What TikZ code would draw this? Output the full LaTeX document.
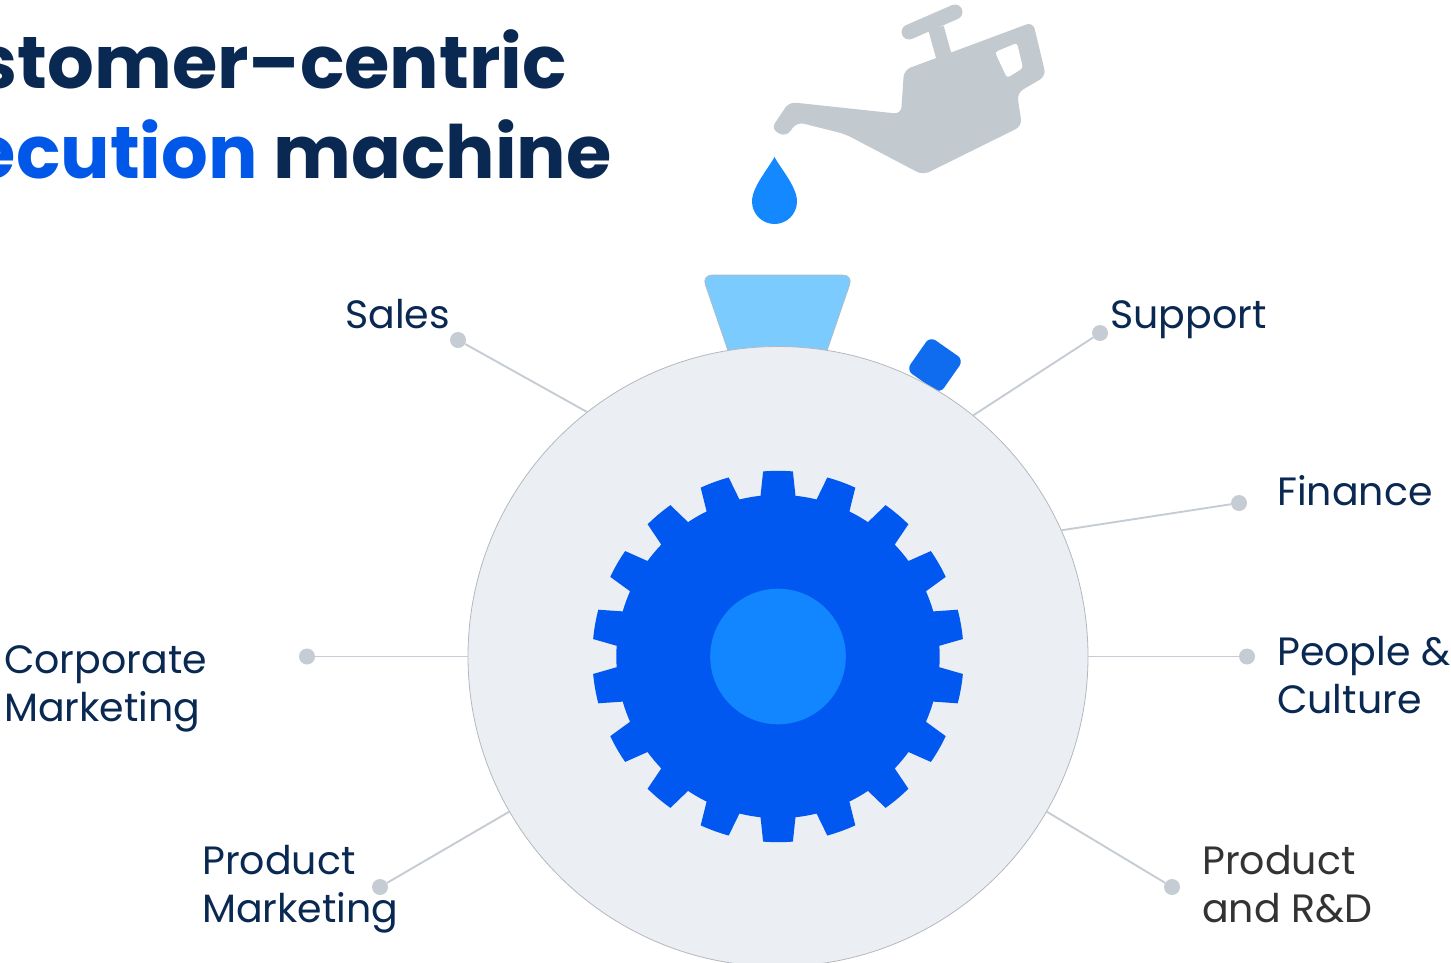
\documentclass[tikz,border=0pt]{standalone}
\usepackage{fontspec}
\setmainfont{Poppins}
\definecolor{navy}{HTML}{0A2952}
\definecolor{brandblue}{HTML}{0057E8}
\definecolor{inkgray}{HTML}{333333}
\definecolor{leadgray}{HTML}{C5CCD3}
\definecolor{dialfill}{HTML}{EBEEF3}
\definecolor{rimgray}{HTML}{B4B8BE}
\definecolor{crownblue}{HTML}{7CCBFE}
\definecolor{buttonblue}{HTML}{0F6CEE}
\definecolor{gearblue}{HTML}{0058F0}
\definecolor{hubblue}{HTML}{1286FF}
\definecolor{cangray}{HTML}{C2C9CF}
\definecolor{dropblue}{HTML}{1488FE}

\tikzset{
  leader/.style={leadgray, line width=1.9pt},
  knob/.style={circle, fill=leadgray, inner sep=0pt, minimum size=16pt},
  dept/.style={anchor=base west, inner sep=0pt, align=left, text=navy,
               font=\fontsize{39.5}{48}\selectfont},
  headline/.style={anchor=base east, inner sep=0pt, text=navy,
                   font=\fontsize{73.5}{90}\selectfont\bfseries},
}

\begin{document}
\begin{tikzpicture}[x=1pt,y=-1pt]
\useasboundingbox (0,0) rectangle (1451,962);
\clip (0,0) rectangle (1451,962);

% heading, cut by the left edge
\node[headline] (head1) at (567,88) {stomer–centric};
\node[headline] (head2) at (612,178) {\textcolor{brandblue}{ecution} machine};

% oil can
\draw[cangray, line width=15pt, line cap=round] (909,32) -- (955,12);
\fill[cangray, rounded corners=7pt] (901,114) -- (904,70) -- (1033,22) -- (1046,76)
  -- (1017,93) -- (1022,126) -- (923,175) -- (845,134) -- (797,122) -- (786,137)
  -- (771,129) -- (789,102) -- cycle;
\draw[cangray, line width=16pt] (936,28) -- (946,64);
\fill[white, rounded corners=3pt] (995,52) -- (1017,43) -- (1023,68) -- (1007,78) -- cycle;

% drop
\fill[dropblue] (774.5,157) .. controls (768,169) and (752,187) .. (752,201.5)
  arc[start angle=180, end angle=0, radius=22.5]
  .. controls (797,187) and (781,169) .. (774.5,157) -- cycle;

% crown and button sit behind the dial
\filldraw[fill=crownblue, draw=rimgray, line width=0.6pt, rounded corners=10pt]
  (702,275) -- (853,275) -- (817,380) -- (738,380) -- cycle;
\node[rectangle, fill=buttonblue, rounded corners=7pt, minimum size=41pt,
      inner sep=0pt, rotate=55] (button) at (935,365) {};

% dial
\node[circle, fill=dialfill, draw=rimgray, line width=0.8pt, minimum size=620pt,
      inner sep=0pt] (dial) at (778,656.5) {};

% gear, 18 teeth
\begin{scope}[shift={(dial.center)}]
  \fill[gearblue] (3.8:161.7) foreach \a in {10,30,...,350} {
      -- (\a-4.6:185.7) arc[start angle=\a-4.6, end angle=\a+4.6, radius=185.7]
      -- (\a+6.2:161.7) arc[start angle=\a+6.2, end angle=\a+13.8, radius=161.7]
    } -- cycle;
  \fill[hubblue] (0,0) circle[radius=67.8];
\end{scope}

% departments
\node[knob] (salesdot) at (458,340) {};
\node[knob] (supportdot) at (1100,333) {};
\node[knob] (financedot) at (1239,503) {};
\node[knob] (peopledot) at (1247,656.5) {};
\node[knob] (corpdot) at (307,656.5) {};
\node[knob] (pmdot) at (380,887) {};
\node[knob] (rddot) at (1172,887) {};

\draw[leader] (dial.128.7) -- (salesdot);
\draw[leader] (dial.51.5) -- (supportdot);
\draw[leader] (dial.24.6) -- (financedot);
\draw[leader] (dial.0) -- (peopledot);
\draw[leader] (dial.180) -- (corpdot);
\draw[leader] (dial.210) -- (pmdot);
\draw[leader] (dial.330) -- (rddot);

% two-line labels sit on the baseline of their last line
\node[dept] (sales) at (345,328) {Sales};
\node[dept] (support) at (1110,328) {Support};
\node[dept] (finance) at (1277,505) {Finance};
\node[dept] (people) at (1277,713) {People \&\\Culture};
\node[dept] (corp) at (4,721) {Corporate\\Marketing};
\node[dept] (pm) at (202,922) {Product\\Marketing};
\node[dept, text=inkgray] (rd) at (1202,922) {Product\\and R\&D};
\end{tikzpicture}
\end{document}
